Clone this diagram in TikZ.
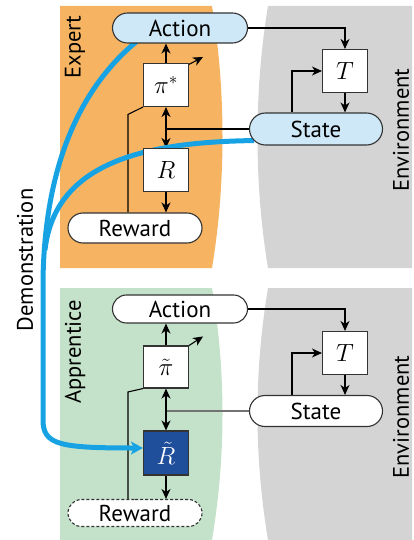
\documentclass[tikz,border=0pt]{standalone}
\usepackage{fontspec}
\setmainfont{PT Sans}
\usetikzlibrary{arrows.meta,shapes.misc}
\definecolor{orangebg}{HTML}{F6B462}
\definecolor{greenbg}{HTML}{C4E2C9}
\definecolor{graybg}{HTML}{D4D4D4}
\definecolor{lightblue}{HTML}{CFE8F7}
\definecolor{demoblue}{HTML}{17A3E3}
\definecolor{darkblue}{HTML}{1F4E9B}
\definecolor{edge}{HTML}{333333}
\pgfdeclarelayer{bg}
\pgfdeclarelayer{mid}
\pgfsetlayers{bg,mid,main}
\tikzset{
 pill/.style={rounded rectangle, draw=edge, line width=1.1pt, minimum width=134pt, inner sep=0pt, font=\fontsize{23}{23}\selectfont},
 sq/.style={rectangle, draw=edge, line width=1.1pt, fill=white, minimum width=45pt, minimum height=43pt, inner sep=0pt, font=\fontsize{25}{25}\selectfont},
 conn/.style={line width=1.1pt, draw=black},
 arr/.style={conn, -{Stealth[length=10pt,width=9pt,inset=3pt]}},
 demo/.style={line width=5pt, draw=demoblue},
 lbl/.style={rotate=90, font=\fontsize{22.5}{22.5}\selectfont, inner sep=0pt}
}
\begin{document}
\begin{tikzpicture}[x=1pt,y=-1pt]
\useasboundingbox (0,0) rectangle (414,540);
% regions
\begin{pgfonlayer}{bg}
\fill[orangebg] (60,6) -- (212,6) .. controls (226,90) and (226,184) .. (212,268) -- (60,268) -- cycle;
\fill[graybg] (268,6) -- (412,6) -- (412,268) -- (268,268) .. controls (254,184) and (254,90) .. (268,6) -- cycle;
\fill[greenbg] (60,288) -- (212,288) .. controls (226,372) and (226,456) .. (212,540) -- (60,540) -- cycle;
\fill[graybg] (268,288) -- (412,288) -- (412,540) -- (268,540) .. controls (254,456) and (254,372) .. (268,288) -- cycle;
\end{pgfonlayer}
% labels
\node[lbl] (lexp) at (75,47) {Expert};
\node[lbl] (lapp) at (75,352) {Apprentice};
\node[lbl] (ldemo) at (25,260) {Demonstration};
\node[lbl] (lenv1) at (401,130) {Environment};
\node[lbl] (lenv2) at (401,417) {Environment};
% top nodes
\node[pill, fill=lightblue, minimum width=135pt, minimum height=30pt] (act1) at (180,28) {Action};
\node[sq] (pi1) at (166,85) {$\pi^{*}$};
\node[sq] (R1) at (166,170) {$R$};
\node[pill, fill=white, minimum height=30pt] (rew1) at (135,228) {Reward};
\node[pill, fill=lightblue, minimum width=133pt, minimum height=32pt] (state1) at (316,129) {State};
\node[sq] (T1) at (345,71) {$T$};
% bottom nodes
\node[pill, fill=white, minimum width=135pt, minimum height=28pt] (act2) at (180,309) {Action};
\node[sq, minimum height=42pt] (pi2) at (166,367) {$\tilde{\pi}$};
\node[sq, fill=darkblue, minimum height=44pt, text=white] (R2) at (166,453) {$\tilde{R}$};
\node[pill, fill=white, dash pattern=on 3pt off 2pt, minimum height=27pt] (rew2) at (135,513) {Reward};
\node[pill, fill=white, minimum width=133pt, minimum height=31pt] (state2) at (316,411) {State};
\node[sq] (T2) at (345,353) {$T$};
\coordinate (j1) at (pi1 |- state1.west);
\coordinate (j2) at (pi2 |- state2.west);
\begin{pgfonlayer}{mid}
% top connectors
\draw[arr] (pi1.north) -- (pi1.north |- act1.south);
\draw[arr] ([shift={(-3,3)}]pi1.north east) -- ++(17,-9);
\draw[conn] (state1.west) -- (j1);
\draw[arr] (j1) -- (pi1.south);
\draw[arr] (j1) -- (R1.north);
\draw[arr] (R1.south) -- (R1.south |- rew1.north);
\draw[conn] ([xshift=-7pt]rew1.north) -- ++(0,-98) -- (pi1.south west);
\draw[arr] (act1.east) -| (T1.north);
\draw[arr] (T1.south) -- (T1.south |- state1.north);
\draw[arr] ([xshift=-24pt]state1.north) |- (T1.west);
% bottom connectors
\draw[arr] (pi2.north) -- (pi2.north |- act2.south);
\draw[arr] ([shift={(-3,2)}]pi2.north east) -- ++(17,-11);
\draw[line width=1.6pt, draw=black!55] (state2.west) -- (j2);
\draw[arr] (j2) -- (pi2.south);
\draw[arr] (j2) -- (R2.north);
\draw[arr] (R2.south) -- (R2.south |- rew2.north);
\draw[conn] ([xshift=-7pt]rew2.north) -- ++(0,-107) -- (pi2.south west);
\draw[arr] (act2.east) -| (T2.north);
\draw[arr] (T2.south) -- (T2.south |- state2.north);
\draw[arr] ([xshift=-24pt]state2.north) |- (T2.west);
% demonstration curves
\draw[demo] ([shift={(-62,-5)}]state1.south) .. controls (150,142) and (55,160) .. (45,250);
\draw[demo, -{Stealth[length=12pt,width=13pt,inset=3pt]}] ([shift={(9,-2)}]act1.south west) .. controls (90,80) and (45,150) .. (43,280) -- (43,420) .. controls (43,445) and (60,448) .. ([yshift=5pt]R2.west);
\end{pgfonlayer}
\end{tikzpicture}
\end{document}
